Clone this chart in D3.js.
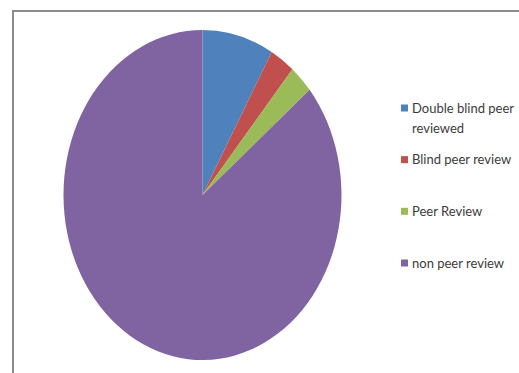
<!DOCTYPE html>
<html>
<head>
<meta charset="utf-8">
<script src="https://cdn.jsdelivr.net/npm/d3@7"></script>
<style>
  html, body { margin: 0; padding: 0; background: #ffffff; }
  svg { display: block; }
</style>
</head>
<body>
<svg id="chart" width="519" height="373"></svg>
<script>
// Review type share of journals
const categories = ["Double blind peer reviewed", "Blind peer review", "Peer Review", "non peer review"];
const shares = [8.3, 2.9, 2.8, 86.0];
const colors = ["#4f81bd", "#c0504d", "#9bbb59", "#8064a2"];
// Legend labels as wrapped in the key
const legendLines = [["Double blind peer", "reviewed"], ["Blind peer review"], ["Peer Review"], ["non peer review"]];

const svg = d3.select("#chart");

// Outer frame of the chart area
svg.append("path")
  .attr("d", "M13,380 L13,11 L530,11")
  .attr("fill", "none")
  .attr("stroke", "#8c8c8c")
  .attr("stroke-width", 2);

// Pie, drawn as a circle and stretched vertically into an ellipse
const rx = 139, ry = 165;
const cx = 202.5, cy = 195;

const pie = d3.pie().sort(null).value(d => d.value);
const arc = d3.arc().innerRadius(0).outerRadius(rx);

const data = categories.map((c, i) => ({ name: c, value: shares[i], color: colors[i] }));

const g = svg.append("g")
  .attr("transform", `translate(${cx},${cy}) scale(1,${ry / rx})`);

g.selectAll("path")
  .data(pie(data))
  .join("path")
  .attr("d", arc)
  .attr("fill", d => d.data.color);

// Legend
const legendY = d3.scalePoint()
  .domain(categories)
  .range([108, 263]);

const legend = svg.append("g")
  .attr("font-family", "Lato, 'Open Sans', sans-serif")
  .attr("font-size", 13)
  .attr("fill", "#3c3c3c");

categories.forEach((c, i) => {
  const y = legendY(c);
  legend.append("rect")
    .attr("x", 401)
    .attr("y", y - 3.5)
    .attr("width", 7)
    .attr("height", 7)
    .attr("fill", colors[i]);
  const t = legend.append("text")
    .attr("x", 412)
    .attr("y", y)
    .attr("dy", "0.35em");
  legendLines[i].forEach((line, j) => {
    t.append("tspan")
      .attr("x", 412)
      .attr("dy", j === 0 ? "0.35em" : "1.6em")
      .text(line);
  });
});
</script>
</body>
</html>
